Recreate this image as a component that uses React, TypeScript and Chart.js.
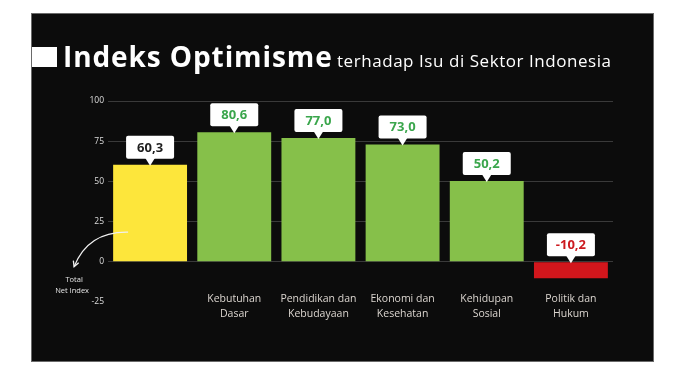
import React, { useEffect, useRef } from "react";
import { Chart, registerables } from "chart.js";

Chart.register(...registerables);

const categories = [
  "Total Net Index",
  "Kebutuhan Dasar",
  "Pendidikan dan Kebudayaan",
  "Ekonomi dan Kesehatan",
  "Kehidupan Sosial",
  "Politik dan Hukum",
];
const categoryLines = [
  [],
  ["Kebutuhan", "Dasar"],
  ["Pendidikan dan", "Kebudayaan"],
  ["Ekonomi dan", "Kesehatan"],
  ["Kehidupan", "Sosial"],
  ["Politik dan", "Hukum"],
];
const values = [60.3, 80.6, 77.0, 73.0, 50.2, -10.2];
const barColors = ["#fde63b", "#86c04a", "#86c04a", "#86c04a", "#86c04a", "#d2161c"];
const labelColors = ["#1e1e1e", "#3aa64c", "#3aa64c", "#3aa64c", "#3aa64c", "#cc1a1f"];
const yTicks = [-25, 0, 25, 50, 75, 100];
const titleMain = "Indeks Optimisme";
const titleSub = "terhadap Isu di Sektor Indonesia";
const annotationLines = ["Total", "Net Index"];

const FONT = '"Open Sans", "Noto Sans", sans-serif';

const decorPlugin = {
  id: "decor",
  beforeDraw(chart: any) {
    const ctx = chart.ctx;
    ctx.save();
    ctx.fillStyle = "#ffffff";
    ctx.fillRect(0, 0, chart.width, chart.height);
    ctx.fillStyle = "#0c0c0c";
    ctx.fillRect(31, 13, 623, 349);
    ctx.strokeStyle = "#6a6a6a";
    ctx.lineWidth = 1;
    ctx.strokeRect(31.5, 13.5, 622, 348);
    // title
    ctx.fillStyle = "#ffffff";
    ctx.fillRect(32, 47, 25, 20);
    ctx.textBaseline = "alphabetic";
    ctx.textAlign = "left";
    ctx.font = `bold 28px ${FONT}`;
    ctx.letterSpacing = "0.9px";
    ctx.fillText(titleMain, 63, 67);
    ctx.font = `500 17px ${FONT}`;
    ctx.letterSpacing = "0.55px";
    ctx.fillText(titleSub, 337, 67);
    ctx.letterSpacing = "0px";
    ctx.restore();
  },
  afterDatasetsDraw(chart: any) {
    const ctx = chart.ctx;
    const meta = chart.getDatasetMeta(0);
    const xs = chart.scales.x;
    const ys = chart.scales.y;
    ctx.save();
    // callouts
    meta.data.forEach((el: any, i: number) => {
      const x = el.x;
      const top = Math.min(el.y, el.base);
      const boxBottom = top - 6;
      const boxH = 23;
      const boxW = 48;
      const boxTop = boxBottom - boxH;
      ctx.fillStyle = "#ffffff";
      ctx.beginPath();
      ctx.roundRect(x - boxW / 2, boxTop, boxW, boxH, 2);
      ctx.fill();
      ctx.beginPath();
      ctx.moveTo(x - 5, boxBottom - 1);
      ctx.lineTo(x + 5, boxBottom - 1);
      ctx.lineTo(x, boxBottom + 7);
      ctx.closePath();
      ctx.fill();
      ctx.fillStyle = labelColors[i];
      ctx.font = `bold 13px ${FONT}`;
      ctx.textAlign = "center";
      ctx.textBaseline = "middle";
      ctx.fillText(values[i].toFixed(1).replace(".", ","), x, boxTop + boxH / 2 + 0.5);
    });
    // category labels
    ctx.fillStyle = "#dcd6d0";
    ctx.font = `10.5px ${FONT}`;
    ctx.textAlign = "center";
    ctx.textBaseline = "middle";
    categoryLines.forEach((lines, i) => {
      const x = xs.getPixelForValue(i);
      lines.forEach((t, j) => ctx.fillText(t, x, 299 + j * 15));
    });
    // annotation
    const cx = xs.getPixelForValue(0);
    ctx.fillStyle = "#e6e6e6";
    ctx.font = `7.5px ${FONT}`;
    ctx.fillText(annotationLines[0], cx - 76, ys.getPixelForValue(-11));
    ctx.fillText(annotationLines[1], cx - 78, ys.getPixelForValue(-18));
    const sx = cx - 22, sy = ys.getPixelForValue(18.5);
    const qx = cx - 62, qy = ys.getPixelForValue(19);
    const ex = cx - 76, ey = ys.getPixelForValue(-3);
    ctx.strokeStyle = "#f0f0f0";
    ctx.lineWidth = 1.3;
    ctx.beginPath();
    ctx.moveTo(sx, sy);
    ctx.quadraticCurveTo(qx, qy, ex, ey);
    ctx.stroke();
    const ang = Math.atan2(ey - qy, ex - qx);
    const ah = 6;
    ctx.beginPath();
    ctx.moveTo(ex + ah * Math.cos(ang + Math.PI - 0.5), ey + ah * Math.sin(ang + Math.PI - 0.5));
    ctx.lineTo(ex, ey);
    ctx.lineTo(ex + ah * Math.cos(ang + Math.PI + 0.5), ey + ah * Math.sin(ang + Math.PI + 0.5));
    ctx.stroke();
    ctx.restore();
  },
};

export default function App() {
  const ref = useRef<HTMLCanvasElement | null>(null);
  useEffect(() => {
    if (!ref.current) return;
    const chart = new Chart(ref.current, {
      type: "bar",
      data: {
        labels: categories,
        datasets: [
          {
            data: values,
            backgroundColor: barColors,
            borderWidth: 0,
            categoryPercentage: 1,
            barPercentage: 0.878,
          },
        ],
      },
      options: {
        animation: false,
        responsive: false,
        devicePixelRatio: 1,
        layout: { padding: { top: 101, right: 69, bottom: 69, left: 0 } },
        plugins: { legend: { display: false }, tooltip: { enabled: false }, title: { display: false } },
        scales: {
          x: { display: false },
          y: {
            min: -25,
            max: 100,
            afterBuildTicks: (s: any) => {
              s.ticks = yTicks.map((v) => ({ value: v }));
            },
            afterFit: (s: any) => {
              s.width = 108;
            },
            border: { display: false },
            grid: {
              drawTicks: false,
              color: (c: any) => (c.tick && c.tick.value === -25 ? "rgba(0,0,0,0)" : "#3a3a3a"),
              lineWidth: 1,
            },
            ticks: {
              padding: 4,
              color: "#dddddd",
              font: { family: FONT, size: 8.5 },
            },
          },
        },
      },
      plugins: [decorPlugin],
    } as any);
    return () => chart.destroy();
  }, []);
  return (
    <canvas
      ref={ref}
      width={682}
      height={371}
      style={{ position: "fixed", left: 0, top: 0, width: 682, height: 371 }}
    />
  );
}
